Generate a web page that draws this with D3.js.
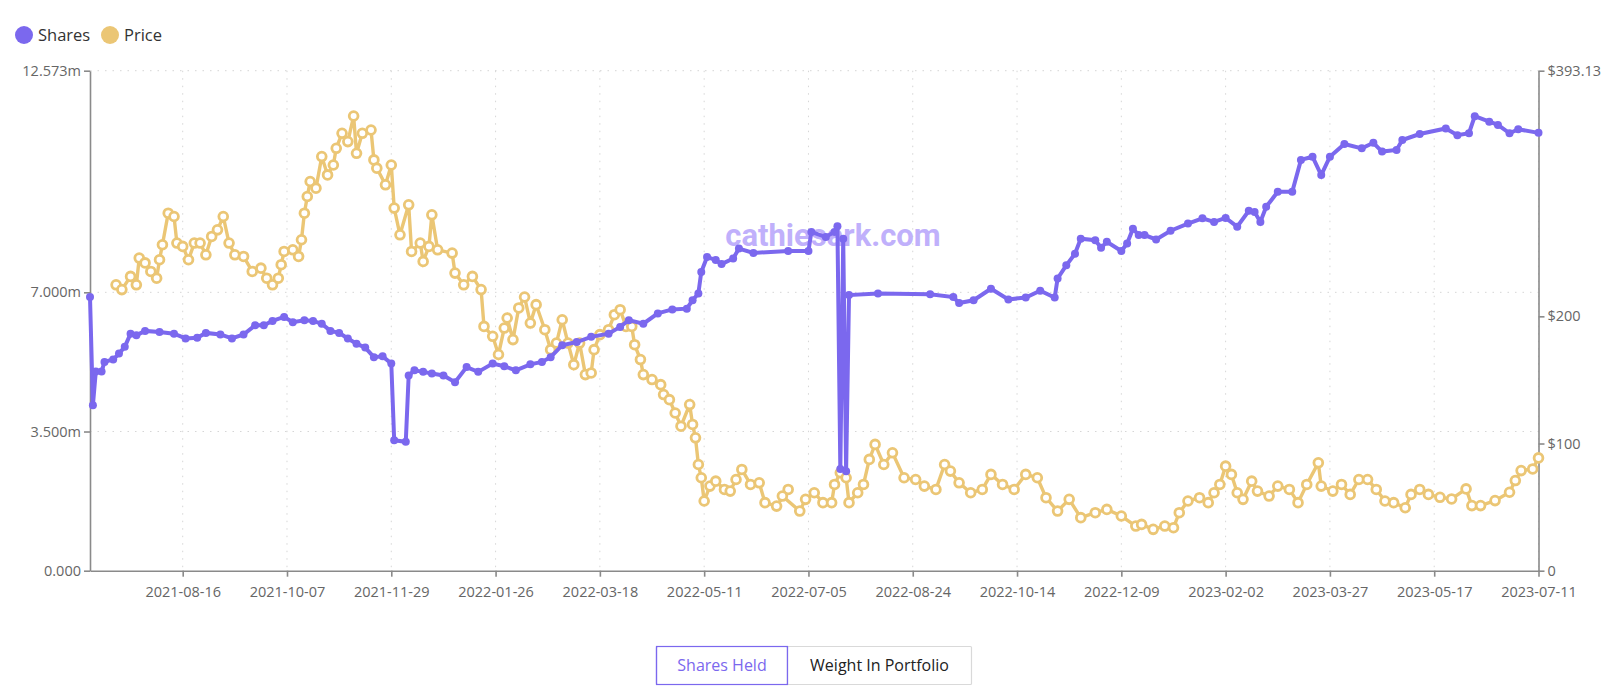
<!DOCTYPE html>
<html><head><meta charset="utf-8">
<script src="https://cdn.jsdelivr.net/npm/d3@7"></script>
<style>
body{margin:0;background:#fff;font-family:"Open Sans","Noto Sans",sans-serif;}
</style></head>
<body><svg id="c" width="1624" height="689"></svg>
<script>
// trading-day index (0 = 2021-06-30, 500 = 2023-07-11)
const tickLabels = ["2021-08-16","2021-10-07","2021-11-29","2022-01-26","2022-03-18","2022-05-11","2022-07-05","2022-08-24","2022-10-14","2022-12-09","2023-02-02","2023-03-27","2023-05-17","2023-07-11"];
const sharesDay = [0,1,2,4,5,8,10,12,14,16,19,24,29,33,37,40,45,49,53,57,60,63,67,70,74,77,80,83,86,89,92,95,98,101,104,105,109,110,112,115,118,
 122,126,130,134,139,143,147,152,156,159,163,168,173,179,183,186,191,196,201,206,208,210,211,213,216,218,222,224,229,241,
 248,249,254,257,258,259,260,261,262,272,290,298,300,305,311,317,323,328,333,334,337,340,342,347,349,351,356,358,360,362,
 364,368,373,379,384,388,392,396,400,402,404,406,410,415,418,422,425,428,433,439,443,446,451,453,459,
 468,472,476,478,483,486,490,493,500];
const sharesVal = [6.88,4.16,5.01,5.01,5.25,5.31,5.46,5.63,5.96,5.92,6.03,6.00,5.96,5.84,5.86,5.98,5.94,5.84,5.94,6.17,6.17,6.28,6.38,6.25,6.30,6.28,6.21,6.03,5.98,5.84,5.71,5.61,5.37,5.39,5.21,3.28,3.24,4.91,5.04,5.00,4.96,
 4.91,4.74,5.12,5.00,5.21,5.14,5.04,5.19,5.25,5.37,5.67,5.75,5.88,5.96,6.13,6.30,6.21,6.47,6.57,6.59,6.80,6.97,7.51,7.89,7.81,7.71,7.85,8.10,7.99,8.04,
 8.04,8.52,8.39,8.52,8.66,2.56,8.35,2.50,6.93,6.97,6.95,6.88,6.73,6.80,7.09,6.82,6.87,7.04,6.87,7.35,7.68,7.97,8.35,8.31,8.12,8.27,8.04,8.23,8.60,8.44,
 8.44,8.33,8.55,8.73,8.86,8.77,8.87,8.65,9.05,9.02,8.77,9.15,9.53,9.53,10.33,10.41,9.95,10.41,10.73,10.62,10.76,10.54,10.58,10.83,10.98,
 11.12,10.95,11.00,11.43,11.29,11.21,11.00,11.10,11.01];
const priceDay = [9,11,14,16,17,19,21,23,24,25,27,29,30,32,34,36,38,40,42,44,46,48,50,53,56,59,61,63,65,66,67,70,72,73,74,75,76,78,80,82,84,85,87,89,91,92,94,97,98,99,102,104,105,107,110,111,114,115,117,118,120,
 125,126,129,132,135,136,139,141,143,144,146,148,150,152,154,157,159,161,163,165,167,169,171,173,174,176,179,181,183,185,187,188,190,191,194,197,198,200,202,204,207,208,209,210,211,212,214,216,219,221,223,225,228,231,233,237,241,
 239,245,247,250,253,256,257,259,261,262,265,267,269,271,274,277,281,285,288,292,295,297,300,304,308,311,315,319,323,327,330,334,338,342,347,351,356,361,
 363,367,371,374,376,379,383,386,388,390,392,394,396,398,401,403,407,410,414,417,420,424,425,429,432,435,438,441,444,447,450,454,456,459,462,
 466,470,475,477,480,485,490,492,494,498,500];
const priceVal = [224.8,221,231.4,224.8,245.8,242,235.3,230,244.5,256.3,281.1,278.5,257.6,255,244.5,257.6,257.6,248.4,262.8,268,278.5,257.6,248.4,247.1,235.3,237.9,230,224.8,230,240.6,251,252.3,247.1,260.2,281.1,294.2,306,300.8,325.6,311.2,319,332.1,343.9,337.4,357.5,328.2,343.9,346.5,323,316.5,303.4,319,285.1,264.1,287.7,251,257.6,243.2,255,279.8,252.3,
 249.7,234,224.8,231.4,221,192.1,184.3,170,190.8,198.7,181.7,206.6,215.2,194.7,209.2,189.5,173.8,179,197.3,179,162,179,154.2,155.5,173.8,185.6,189.5,201.3,205.2,192.1,192.1,177.7,166,154.2,150.3,146.3,138.5,134.5,124,113.6,130.6,115,104.5,83.5,73.1,54.8,66.5,70.4,63.9,62.6,71.7,79.6,67.8,69.1,53.5,50.8,63.9,
 58.7,46.9,56.1,61.3,53.5,53.5,67.8,77,73.1,53.5,61.3,67.8,87.5,99.3,83.5,92.7,73.1,71.7,66.5,63.9,83.5,78.3,69.1,61.3,63.9,75.7,67.8,63.9,75.7,73.1,57.4,46.9,56.1,41.7,45.6,48.2,43,35.1,
 36.4,32.5,35.1,33.8,45.6,54.8,57.4,53.5,61.3,67.8,82.2,75.7,61.3,56.1,70.4,62.6,58.7,66.5,63.9,53.5,67.8,84.8,66.5,62.6,67.8,60,71.7,71.7,63.9,54.8,53.5,49.5,60,63.9,60,
 57.7,56.4,64.3,51.2,51.2,55.1,61.7,70.9,78.7,80,88.7];
const leftTicks = [0,3.5,7,12.573];
const leftTickLabels = ["0.000","3.500m","7.000m","12.573m"];
const rightTicks = [0,100,200,393.13];
const rightTickLabels = ["0","$100","$200","$393.13"];
const seriesNames = ["Shares","Price"];
const buttonLabels = ["Shares Held","Weight In Portfolio"];

const C_SH = "#7b68ee", C_PR = "#ebc675";
const svg = d3.select("#c");
const L=90, R=1538.5, T=70.7, B=570.7;
const x = d3.scaleLinear().domain([0,500]).range([L,R]);
const yL = d3.scaleLinear().domain([0,12.573]).range([B,T]);
const yR = d3.scaleLinear().domain([0,393.13]).range([B,T]);

const g = svg.append("g");
const tickIdx = d3.range(32, 501, 36);
g.selectAll(".hg").data(leftTicks.slice(1)).join("line")
 .attr("x1",L).attr("x2",R).attr("y1",d=>yL(d)).attr("y2",d=>yL(d))
 .attr("stroke","#d6d6d6").attr("stroke-dasharray","1.5,6");
g.selectAll(".vg").data(tickIdx).join("line")
 .attr("x1",d=>x(d)).attr("x2",d=>x(d)).attr("y1",T).attr("y2",B)
 .attr("stroke","#d6d6d6").attr("stroke-dasharray","1.5,6");

svg.append("text").attr("x",833).attr("y",246).attr("text-anchor","middle")
 .attr("font-size",31).attr("font-weight","bold").attr("fill","#c0b0fb")
 .attr("font-family","Roboto, sans-serif").text("cathiesark.com");

const axC="#8a8a8a";
const left = svg.append("g").attr("transform",`translate(${L},0)`)
 .call(d3.axisLeft(yL).tickValues(leftTicks).tickFormat((d,i)=>leftTickLabels[i]).tickSize(6).tickSizeOuter(0));
const right = svg.append("g").attr("transform",`translate(${R},0)`)
 .call(d3.axisRight(yR).tickValues(rightTicks).tickFormat((d,i)=>rightTickLabels[i]).tickSize(6).tickSizeOuter(0));
const bottom = svg.append("g").attr("transform",`translate(0,${B})`)
 .call(d3.axisBottom(x).tickValues(tickIdx).tickFormat((d,i)=>tickLabels[i]).tickSize(6).tickSizeOuter(0));
[left,right,bottom].forEach(a=>{
 a.selectAll("path,line").attr("stroke",axC).attr("stroke-width",1.6);
 a.selectAll("text").attr("fill","#666").attr("font-size",14.5).attr("font-family","'Open Sans',sans-serif");
});
bottom.selectAll("text").attr("dy","1.2em");

const pData = priceDay.map((d,i)=>[d,priceVal[i]]);
svg.append("path").datum(pData).attr("fill","none").attr("stroke",C_PR).attr("stroke-width",3.4)
 .attr("d",d3.line().x(d=>x(d[0])).y(d=>yR(d[1])));
svg.selectAll(".pp").data(pData).join("circle").attr("cx",d=>x(d[0])).attr("cy",d=>yR(d[1]))
 .attr("r",4.4).attr("fill","#fff").attr("stroke",C_PR).attr("stroke-width",2.8);

const sData = sharesDay.map((d,i)=>[d,sharesVal[i]]);
svg.append("path").datum(sData).attr("fill","none").attr("stroke",C_SH).attr("stroke-width",4)
 .attr("d",d3.line().x(d=>x(d[0])).y(d=>yL(d[1])));
svg.selectAll(".sp").data(sData).join("circle").attr("cx",d=>x(d[0])).attr("cy",d=>yL(d[1]))
 .attr("r",4).attr("fill",C_SH);

const lg = svg.append("g");
[[24,C_SH,38],[110,C_PR,124]].forEach((p,i)=>{
 lg.append("circle").attr("cx",p[0]).attr("cy",35).attr("r",9).attr("fill",p[1]);
 lg.append("text").attr("x",p[2]).attr("y",41).attr("font-size",16.5).attr("fill","#333")
  .attr("font-family","'Open Sans',sans-serif").text(seriesNames[i]);
});

const bw=[131,184], bx0=656.5;
let bx=bx0;
buttonLabels.forEach((t,i)=>{
 svg.append("rect").attr("x",bx).attr("y",646.5).attr("width",bw[i]).attr("height",38)
  .attr("fill","#fff").attr("stroke",i===0?C_SH:"#d9d9d9").attr("stroke-width",1.2).attr("rx",1);
 svg.append("text").attr("x",bx+bw[i]/2).attr("y",671).attr("text-anchor","middle")
  .attr("font-size",16).attr("fill",i===0?C_SH:"#222").attr("font-family","'Open Sans',sans-serif").text(t);
 bx+=bw[i];
});
svg.append("rect").attr("x",bx0).attr("y",646.5).attr("width",bw[0]).attr("height",38).attr("fill","none").attr("stroke",C_SH).attr("stroke-width",1.2);
</script></body></html>
